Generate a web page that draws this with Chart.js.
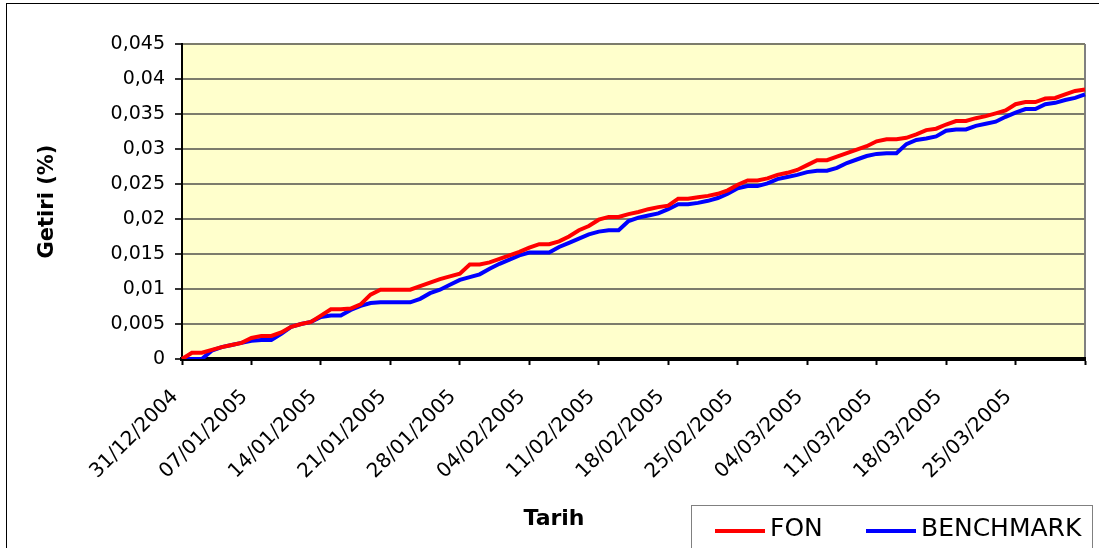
<!DOCTYPE html>
<html>
<head>
<meta charset="utf-8">
<script src="https://cdn.jsdelivr.net/npm/chart.js@4.4.0/dist/chart.umd.min.js"></script>
<style>
  html, body { margin: 0; padding: 0; background: #fff; }
</style>
</head>
<body>
<canvas id="myChart" width="1099" height="548"></canvas>
<script>
// daily values, 31/12/2004 .. 01/04/2005
const fon = [
  0, 0.0009, 0.0009, 0.0013, 0.0017, 0.002, 0.0023, 0.003, 0.0033, 0.0033,
  0.0038, 0.0046, 0.005, 0.0053, 0.0062, 0.0071, 0.0071, 0.0072, 0.0078, 0.0092,
  0.0099, 0.0099, 0.0099, 0.0099, 0.0104, 0.0109, 0.0114, 0.0118, 0.0122, 0.0135,
  0.0135, 0.0138, 0.0143, 0.0148, 0.0153, 0.0159, 0.0164, 0.0164, 0.0168, 0.0175,
  0.0184, 0.019, 0.0199, 0.0203, 0.0203, 0.0207, 0.021, 0.0214, 0.0217, 0.0219,
  0.0229, 0.0229, 0.0231, 0.0233, 0.0236, 0.0241, 0.0249, 0.0255, 0.0255, 0.0258,
  0.0263, 0.0266, 0.027, 0.0277, 0.0284, 0.0284, 0.0289, 0.0294, 0.0299, 0.0304,
  0.0311, 0.0314, 0.0314, 0.0316, 0.0321, 0.0327, 0.0329, 0.0335, 0.034, 0.034,
  0.0344, 0.0347, 0.0351, 0.0355, 0.0364, 0.0367, 0.0367, 0.0372, 0.0373, 0.0378,
  0.0383, 0.0385
];
const benchmark = [
  0, 0, 0, 0.0012, 0.0017, 0.002, 0.0023, 0.0026, 0.0027, 0.0027,
  0.0036, 0.0046, 0.005, 0.0053, 0.006, 0.0062, 0.0062, 0.007, 0.0076, 0.008,
  0.0081, 0.0081, 0.0081, 0.0081, 0.0086, 0.0094, 0.0099, 0.0106, 0.0113, 0.0117,
  0.0121, 0.0129, 0.0136, 0.0142, 0.0148, 0.0152, 0.0152, 0.0152, 0.016, 0.0166,
  0.0172, 0.0178, 0.0182, 0.0184, 0.0184, 0.0197, 0.0202, 0.0205, 0.0208, 0.0214,
  0.0221, 0.0221, 0.0223, 0.0226, 0.023, 0.0236, 0.0244, 0.0247, 0.0247, 0.0251,
  0.0257, 0.026, 0.0263, 0.0267, 0.0269, 0.0269, 0.0273, 0.028, 0.0285, 0.029,
  0.0293, 0.0294, 0.0294, 0.0307, 0.0313, 0.0315, 0.0318, 0.0326, 0.0328, 0.0328,
  0.0333, 0.0336, 0.0339, 0.0346, 0.0352, 0.0357, 0.0357, 0.0364, 0.0366, 0.037,
  0.0373, 0.0378
];
const yTicks = [0, 0.005, 0.01, 0.015, 0.02, 0.025, 0.03, 0.035, 0.04, 0.045];

function pad(n) { return n < 10 ? '0' + n : '' + n; }

// one label per calendar day
const dates = [];
for (let i = 0; i < fon.length; i++) {
  const d = new Date(2004, 11, 31 + i);
  dates.push(pad(d.getDate()) + '/' + pad(d.getMonth() + 1) + '/' + d.getFullYear());
}

Chart.defaults.font.family = 'DejaVu Sans';
Chart.defaults.color = '#000';

const ctx = document.getElementById('myChart').getContext('2d');

const excelLook = {
  id: 'excelLook',
  beforeDraw(chart) {
    const c = chart.ctx, a = chart.chartArea;
    c.save();
    c.fillStyle = '#FFFFCC';
    c.fillRect(a.left, a.top, a.right - a.left, a.bottom - a.top);
    c.strokeStyle = '#808080';
    c.lineWidth = 2;
    c.beginPath();
    c.moveTo(a.right, a.top);
    c.lineTo(a.right, a.bottom);
    c.stroke();
    // outer chart frame
    c.strokeStyle = '#000';
    c.lineWidth = 1;
    c.strokeRect(6.5, 3.5, 1200, 600);
    c.restore();
  },
  afterDraw(chart) {
    const c = chart.ctx;
    c.save();
    // x axis title, sits left of centre as in the original
    c.font = 'bold 22px "DejaVu Sans"';
    c.fillStyle = '#000';
    c.textAlign = 'center';
    c.textBaseline = 'middle';
    c.fillText('Tarih', 554, 519);

    c.fillStyle = '#fff';
    c.fillRect(691, 505, 402, 60);
    c.strokeStyle = '#808080';
    c.lineWidth = 1;
    c.strokeRect(691.5, 505.5, 401, 60);
    const starts = [715, 866];
    c.font = '25px "DejaVu Sans"';
    c.textAlign = 'left';
    c.textBaseline = 'alphabetic';
    chart.data.datasets.forEach((ds, i) => {
      const x = starts[i];
      c.strokeStyle = ds.borderColor;
      c.lineWidth = 4;
      c.beginPath();
      c.moveTo(x, 531);
      c.lineTo(x + 50, 531);
      c.stroke();
      c.fillStyle = '#000';
      c.fillText(ds.label, x + 55, 536);
    });
    c.restore();
  }
};

const config = {
  type: 'line',
  data: {
    labels: dates,
    datasets: [
      { label: 'FON', data: fon, borderColor: '#FF0000', backgroundColor: '#FF0000', borderWidth: 4, pointRadius: 0, tension: 0 },
      { label: 'BENCHMARK', data: benchmark, borderColor: '#0000FF', backgroundColor: '#0000FF', borderWidth: 4, pointRadius: 0, tension: 0 }
    ]
  },
  options: {
    responsive: false,
    animation: false,
    layout: { padding: { left: 20, top: 44, right: 14, bottom: 0 } },
    plugins: {
      legend: { display: false },
      tooltip: { enabled: false }
    },
    scales: {
      x: {
        type: 'category',
        offset: false,
        afterBuildTicks: (scale) => {
          scale.ticks = scale.ticks.filter(t => t.value % 7 === 0);
        },
        afterFit: (scale) => {
          scale.height = 189;
          scale.paddingLeft = 0;
          scale.paddingRight = 0;
        },
        grid: { drawOnChartArea: false, drawTicks: true, tickLength: 6, tickColor: '#000', tickWidth: 2 },
        border: { color: '#000', width: 4 },
        ticks: {
          autoSkip: false,
          minRotation: 45,
          maxRotation: 45,
          padding: 20,
          labelOffset: -7,
          font: { size: 20 },
          callback: function (value) {
            return value === dates.length - 1 ? '' : this.getLabelForValue(value);
          }
        },
        title: { display: false }
      },
      y: {
        min: 0,
        max: 0.045,
        afterBuildTicks: (scale) => {
          scale.ticks = yTicks.map(v => ({ value: v }));
        },
        afterFit: (scale) => { scale.width = 162; },
        grid: { color: '#7c7c6c', lineWidth: 2, tickLength: 7, tickColor: '#333' },
        border: { color: '#000', width: 2 },
        ticks: {
          padding: 10,
          font: { size: 19 },
          callback: (v) => (Math.round(v * 1000) / 1000).toString().replace('.', ',')
        },
        title: { display: true, text: 'Getiri (%)', font: { size: 21, weight: 'bold' }, padding: { top: 15, bottom: 0 } }
      }
    }
  },
  plugins: [excelLook]
};

const myChart = new Chart(ctx, config);
</script>
</body>
</html>
